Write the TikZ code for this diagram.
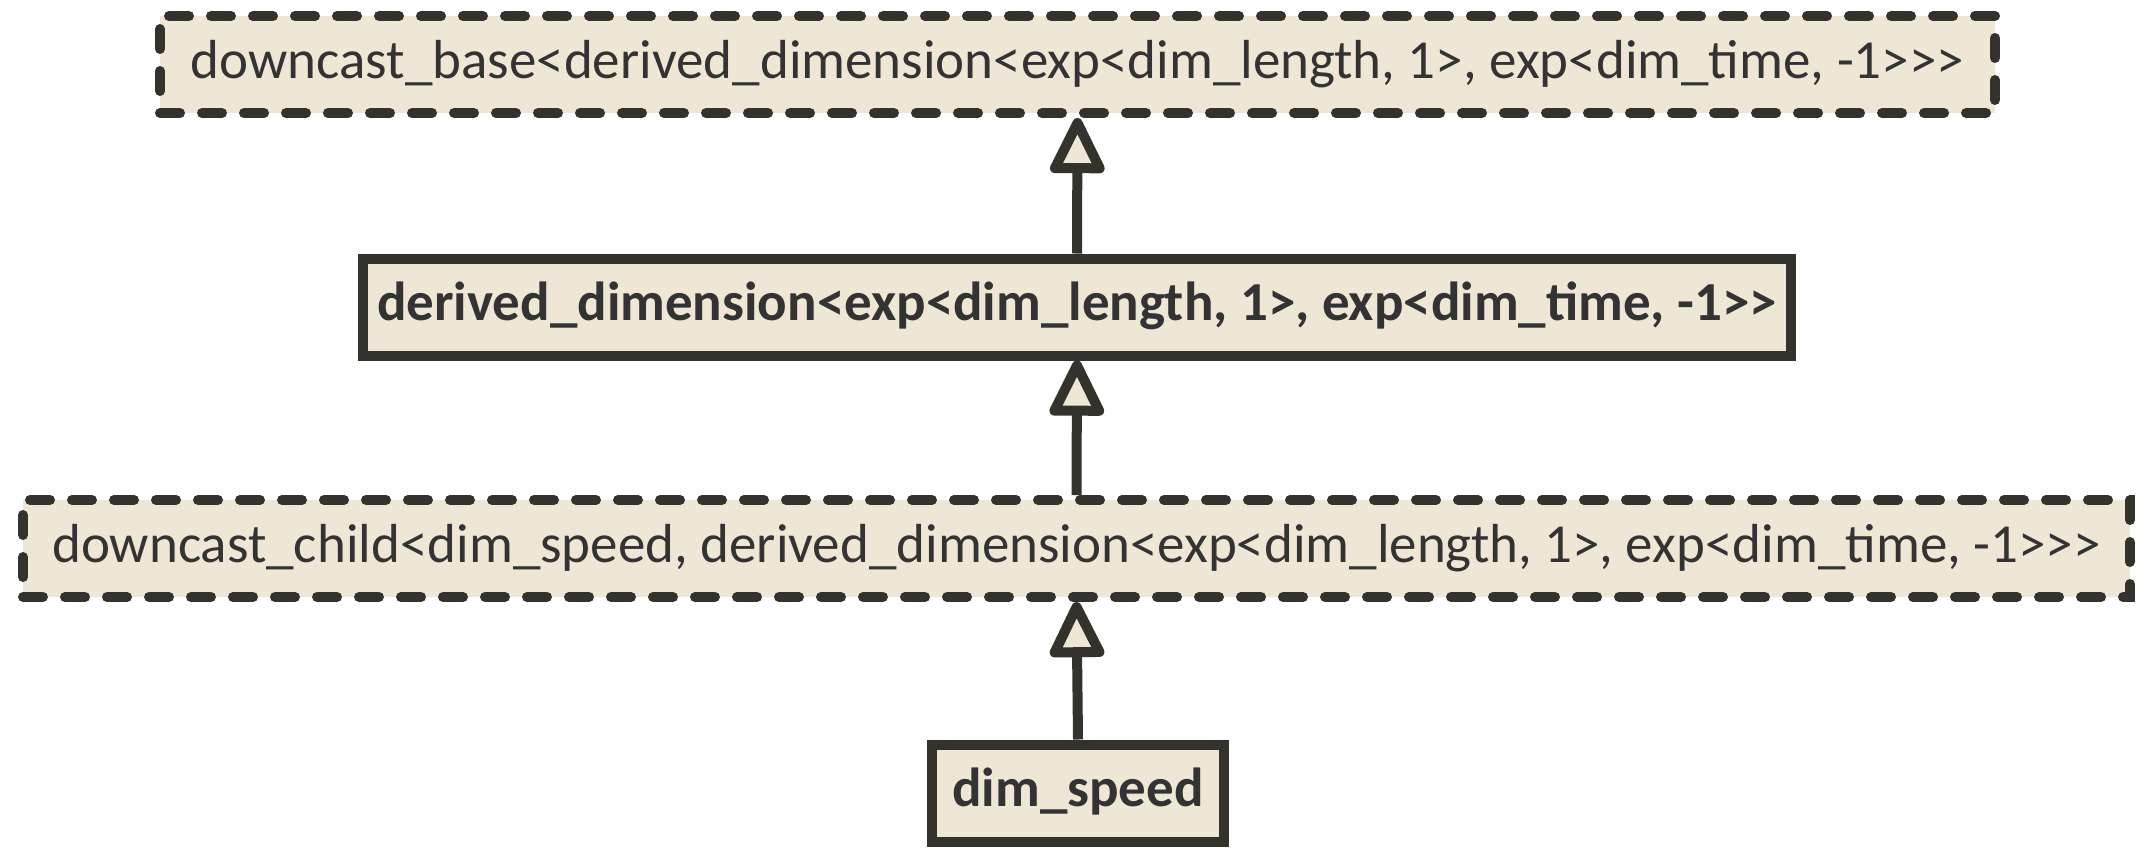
\documentclass[tikz,border=0pt]{standalone}
\usepackage{fontspec}
\setmainfont{Carlito}[Ligatures=TeXOff]
\usetikzlibrary{arrows.meta,positioning}
\definecolor{boxfill}{RGB}{239,231,214}
\definecolor{boxline}{RGB}{52,50,45}
\definecolor{boxtext}{RGB}{51,51,51}

\begin{document}
\begin{tikzpicture}[x=0.5pt,y=-0.5pt,
	umlbox/.style={draw=boxline, fill=boxfill, text=boxtext, line width=5pt, inner sep=0pt, minimum height=48.5pt, font=\fontsize{27.5pt}{32pt}\selectfont, text height=19pt, text depth=5.5pt},
	dashbox/.style={umlbox, line cap=round, dash pattern=on 10pt off 11pt},
	boldbox/.style={umlbox, font=\fontsize{27.5pt}{32pt}\selectfont\bfseries},
	inherit/.style={draw=boxline, line width=5pt, -{Triangle[length=31pt, width=29pt, fill=boxfill, line join=round]}}]
	\useasboundingbox (0,0) rectangle (2145,847);
	
	\node (base) at (1077.5,64.5) [dashbox, minimum width=917.5pt] {downcast\_base<derived\_dimension<exp<dim\_length, 1>, exp<dim\_time, -1>>>};
	\node (derived) at (1077,307) [boldbox, minimum width=714pt] {derived\_dimension<exp<dim\_length, 1>, exp<dim\_time, -1>>};
	\node (child) at (1076.5,548.5) [dashbox, minimum width=1053.5pt] {downcast\_child<dim\_speed, derived\_dimension<exp<dim\_length, 1>, exp<dim\_time, -1>>>};
	\node (speed) at (1078,793) [boldbox, minimum width=146pt] {dim\_speed};
	
	% inheritance arrows
	\draw[inherit] (derived.north) -- (base.south);
	\draw[inherit] (child.north) -- (derived.south);
	\draw[inherit] (speed.north) -- (child.south);
\end{tikzpicture}
\end{document}
